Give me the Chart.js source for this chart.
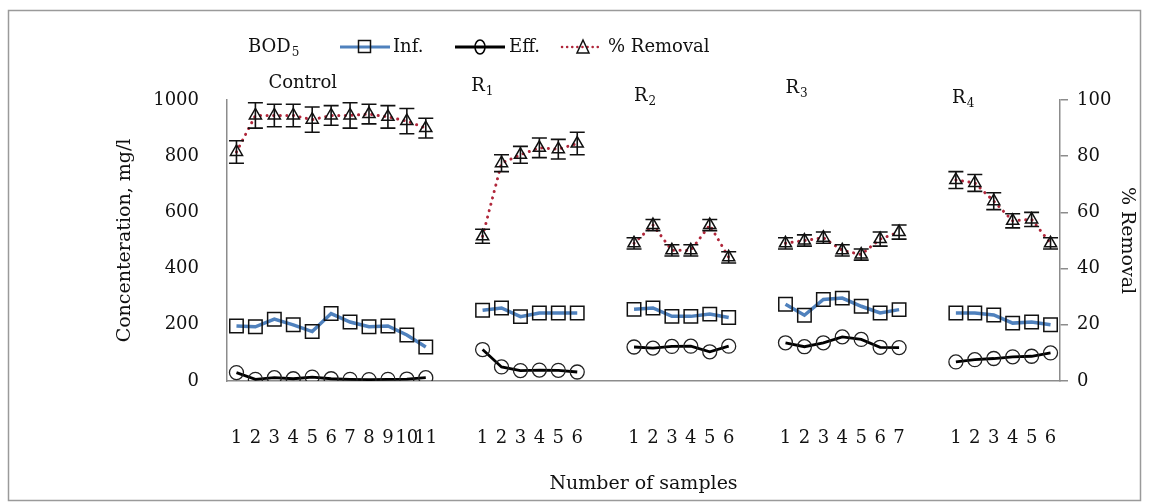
<!DOCTYPE html>
<html><head><meta charset="utf-8">
<script src="https://cdn.jsdelivr.net/npm/chart.js@4.4.1/dist/chart.umd.min.js"></script>
<style>html,body{margin:0;padding:0;background:#fff;}canvas{display:block}</style>
</head><body>
<canvas id="c" width="1149" height="503"></canvas>
<script>
// ---- data ----
const groupNames = ['Control', 'R', 'R', 'R', 'R'];
const groupSubs  = ['', '1', '2', '3', '4'];

const controlSamples = ['1','2','3','4','5','6','7','8','9','10','11'];
const r1Samples = ['1','2','3','4','5','6'];
const r2Samples = ['1','2','3','4','5','6'];
const r3Samples = ['1','2','3','4','5','6','7'];
const r4Samples = ['1','2','3','4','5','6'];

const controlInf = [196, 193, 220, 200, 176, 240, 210, 193, 196, 164, 121];
const r1Inf = [252, 260, 229, 242, 242, 242];
const r2Inf = [255, 260, 230, 230, 238, 226];
const r3Inf = [273, 234, 290, 295, 266, 242, 254];
const r4Inf = [242, 242, 235, 206, 210, 200];

const controlEff = [30, 6, 12, 8, 14, 8, 6, 5, 6, 7, 12];
const r1Eff = [112, 50, 37, 39, 38, 32];
const r2Eff = [121, 117, 123, 124, 104, 124];
const r3Eff = [136, 122, 136, 157, 148, 120, 119];
const r4Eff = [68, 76, 80, 86, 88, 100];

const controlRemoval = [81.5, 94.5, 94.5, 94.5, 93, 94.5, 94.5, 95, 94, 92.5, 90];
const r1Removal = [51.5, 77.5, 80.5, 83, 82.5, 84.5];
const r2Removal = [49, 55.5, 46.5, 46.5, 55.5, 44];
const r3Removal = [49, 50, 51, 46.5, 45, 50.5, 53];
const r4Removal = [71.5, 70.5, 64, 57, 57.5, 49];

const controlErr = [4, 4.5, 4, 4, 4.5, 3.5, 4.5, 3.5, 4, 4.5, 3.5];
const r1Err = [2.5, 3, 3, 3.5, 3.5, 4];
const r2Err = [2, 2, 2, 2, 2, 2];
const r3Err = [2, 2, 2, 2, 2, 2.5, 2.5];
const r4Err = [3, 3, 3, 2.5, 2.5, 2];

const leftTicks = [0, 200, 400, 600, 800, 1000];
const rightTicks = [0, 20, 40, 60, 80, 100];

// ---- build category table (2 blank categories between groups) ----
const GAP = 2;
function join(parts, filler) {
  const out = [];
  parts.forEach((p, i) => { if (i) for (let k = 0; k < GAP; k++) out.push(filler); out.push(...p); });
  return out;
}
const labels = join([controlSamples, r1Samples, r2Samples, r3Samples, r4Samples], '');
const infAll = join([controlInf, r1Inf, r2Inf, r3Inf, r4Inf], null);
const effAll = join([controlEff, r1Eff, r2Eff, r3Eff, r4Eff], null);
const remAll = join([controlRemoval, r1Removal, r2Removal, r3Removal, r4Removal], null);
const errAll = join([controlErr, r1Err, r2Err, r3Err, r4Err], null);
const groupStart = [];
{ let idx = 0; [controlSamples, r1Samples, r2Samples, r3Samples, r4Samples].forEach(g => { groupStart.push(idx); idx += g.length + GAP; }); }

const SERIF = '"DejaVu Serif", "Liberation Serif", serif';
const BLUE = '#4F81BD';
const RED = '#B0263A';
const AXIS = '#8c8c8c';

function subText(ctx, main, sub, x, y, size, align) {
  ctx.font = size + 'px ' + SERIF;
  ctx.textBaseline = 'middle';
  const w1 = ctx.measureText(main).width;
  ctx.font = Math.round(size * 0.65) + 'px ' + SERIF;
  const w2 = sub ? ctx.measureText(sub).width : 0;
  let sx = x;
  if (align === 'center') sx = x - (w1 + w2) / 2;
  ctx.textAlign = 'left';
  ctx.font = size + 'px ' + SERIF;
  ctx.fillText(main, sx, y);
  if (sub) {
    ctx.font = Math.round(size * 0.65) + 'px ' + SERIF;
    ctx.fillText(sub, sx + w1 + 1, y + size * 0.3);
  }
}

const extras = {
  id: 'extras',
  afterDatasetsDraw(chart) {
    const ctx = chart.ctx;
    const xs = chart.scales.x, y1 = chart.scales.y1;
    // error bars on % removal
    ctx.save();
    ctx.strokeStyle = '#111';
    ctx.lineWidth = 1.6;
    remAll.forEach((v, i) => {
      if (v === null) return;
      const e = errAll[i];
      const px = xs.getPixelForValue(i);
      const top = y1.getPixelForValue(v + e), bot = y1.getPixelForValue(v - e);
      ctx.beginPath();
      ctx.moveTo(px, top); ctx.lineTo(px, bot);
      ctx.moveTo(px - 7.5, top); ctx.lineTo(px + 7.5, top);
      ctx.moveTo(px - 7.5, bot); ctx.lineTo(px + 7.5, bot);
      ctx.stroke();
    });
    ctx.restore();
  },
  afterDraw(chart) {
    const ctx = chart.ctx;
    const xs = chart.scales.x;
    ctx.save();
    // outer frame
    ctx.strokeStyle = '#9a9a9a';
    ctx.lineWidth = 1.5;
    ctx.strokeRect(8.5, 10.5, 1132, 490);
    ctx.fillStyle = '#111';
    // group labels
    const gOff = [3.5, -0.6, 0, 0, -0.2];
    const gY = [83, 86, 96, 88, 98];
    groupNames.forEach((n, gi) => {
      const px = xs.getPixelForValue(groupStart[gi] + gOff[gi]);
      subText(ctx, n, groupSubs[gi], px, gY[gi], 18, gi === 0 ? 'center' : 'left');
    });
    // legend
    const ly = 47;
    subText(ctx, 'BOD', '5', 248, ly, 18, 'left');
    // Inf.
    ctx.strokeStyle = BLUE; ctx.lineWidth = 3;
    ctx.beginPath(); ctx.moveTo(340, ly); ctx.lineTo(390, ly); ctx.stroke();
    ctx.strokeStyle = '#111'; ctx.lineWidth = 1.5;
    ctx.strokeRect(358.5, ly - 6.5, 12, 12);
    ctx.font = '18px ' + SERIF; ctx.textAlign = 'left'; ctx.textBaseline = 'middle';
    ctx.fillText('Inf.', 393, ly);
    // Eff.
    ctx.strokeStyle = '#000'; ctx.lineWidth = 3;
    ctx.beginPath(); ctx.moveTo(455, ly); ctx.lineTo(505, ly); ctx.stroke();
    ctx.lineWidth = 1.5;
    ctx.beginPath(); ctx.ellipse(480, ly, 5, 7, 0, 0, Math.PI * 2); ctx.stroke();
    ctx.fillText('Eff.', 509, ly);
    // % Removal
    ctx.strokeStyle = RED; ctx.lineWidth = 2.5; ctx.lineCap = 'round';
    ctx.setLineDash([0.1, 5]);
    ctx.beginPath(); ctx.moveTo(562, ly); ctx.lineTo(602, ly); ctx.stroke();
    ctx.setLineDash([]);
    ctx.strokeStyle = '#111'; ctx.lineWidth = 1.5;
    ctx.beginPath(); ctx.moveTo(583, ly - 7); ctx.lineTo(589, ly + 6); ctx.lineTo(577, ly + 6); ctx.closePath(); ctx.stroke();
    ctx.fillText('% Removal', 608, ly);
    ctx.restore();
  }
};

new Chart(document.getElementById('c'), {
  type: 'line',
  data: {
    labels: labels,
    datasets: [
      {
        label: 'Inf.', data: infAll, yAxisID: 'y',
        borderColor: BLUE, borderWidth: 3.5, spanGaps: false,
        pointStyle: 'rect', pointRadius: 9.5, pointBorderColor: '#111', pointBorderWidth: 1.5,
        pointBackgroundColor: 'rgba(0,0,0,0)', tension: 0
      },
      {
        label: 'Eff.', data: effAll, yAxisID: 'y',
        borderColor: '#000', borderWidth: 2.8, spanGaps: false,
        pointStyle: 'circle', pointRadius: 7, pointBorderColor: '#222', pointBorderWidth: 1.3,
        pointBackgroundColor: 'rgba(0,0,0,0)', tension: 0
      },
      {
        label: '% Removal', data: remAll, yAxisID: 'y1',
        borderColor: RED, borderWidth: 3, borderDash: [0.1, 6.5], borderCapStyle: 'round', spanGaps: false,
        pointStyle: 'triangle', pointRadius: 7, pointBorderColor: '#111', pointBorderWidth: 1.5,
        pointBackgroundColor: 'rgba(0,0,0,0)', tension: 0
      }
    ]
  },
  options: {
    responsive: false,
    animation: false,
    layout: { padding: { top: 100, left: 0, right: 0, bottom: 0 } },
    plugins: { legend: { display: false }, tooltip: { enabled: false } },
    scales: {
      x: {
        type: 'category', offset: true,
        grid: { display: false, drawTicks: false },
        border: { display: true, color: AXIS, width: 1.5 },
        ticks: { autoSkip: false, maxRotation: 0, minRotation: 0, padding: 47, color: '#111', font: { family: SERIF, size: 18 } },
        title: { display: true, text: 'Number of samples', color: '#111', font: { family: SERIF, size: 19 }, padding: { top: 0, bottom: 8 } },
        afterFit(s) { s.height = 503 - 381; }
      },
      y: {
        position: 'left', min: 0, max: 1000,
        afterBuildTicks(s) { s.ticks = leftTicks.map(v => ({ value: v })); },
        grid: { drawOnChartArea: false, drawTicks: false },
        border: { display: true, color: AXIS, width: 1.5 },
        ticks: { padding: 28, color: '#111', font: { family: SERIF, size: 18 }, callback: v => String(v) },
        title: { display: true, text: 'Concenteration, mg/l', color: '#111', font: { family: SERIF, size: 19 }, padding: { top: 114, bottom: 0 } },
        afterFit(s) { s.width = 227; }
      },
      y1: {
        position: 'right', min: 0, max: 100,
        afterBuildTicks(s) { s.ticks = rightTicks.map(v => ({ value: v })); },
        grid: { drawOnChartArea: false, drawTicks: true, tickLength: 8, color: AXIS, lineWidth: 1.5 },
        border: { display: true, color: AXIS, width: 1.5 },
        ticks: { padding: 9, color: '#111', font: { family: SERIF, size: 18 }, callback: v => String(v) },
        title: { display: true, text: '% Removal', color: '#111', font: { family: SERIF, size: 19 }, padding: { top: 11, bottom: 0 } },
        afterFit(s) { s.width = 1149 - 1060; }
      }
    }
  },
  plugins: [extras]
});
</script>
</body></html>
